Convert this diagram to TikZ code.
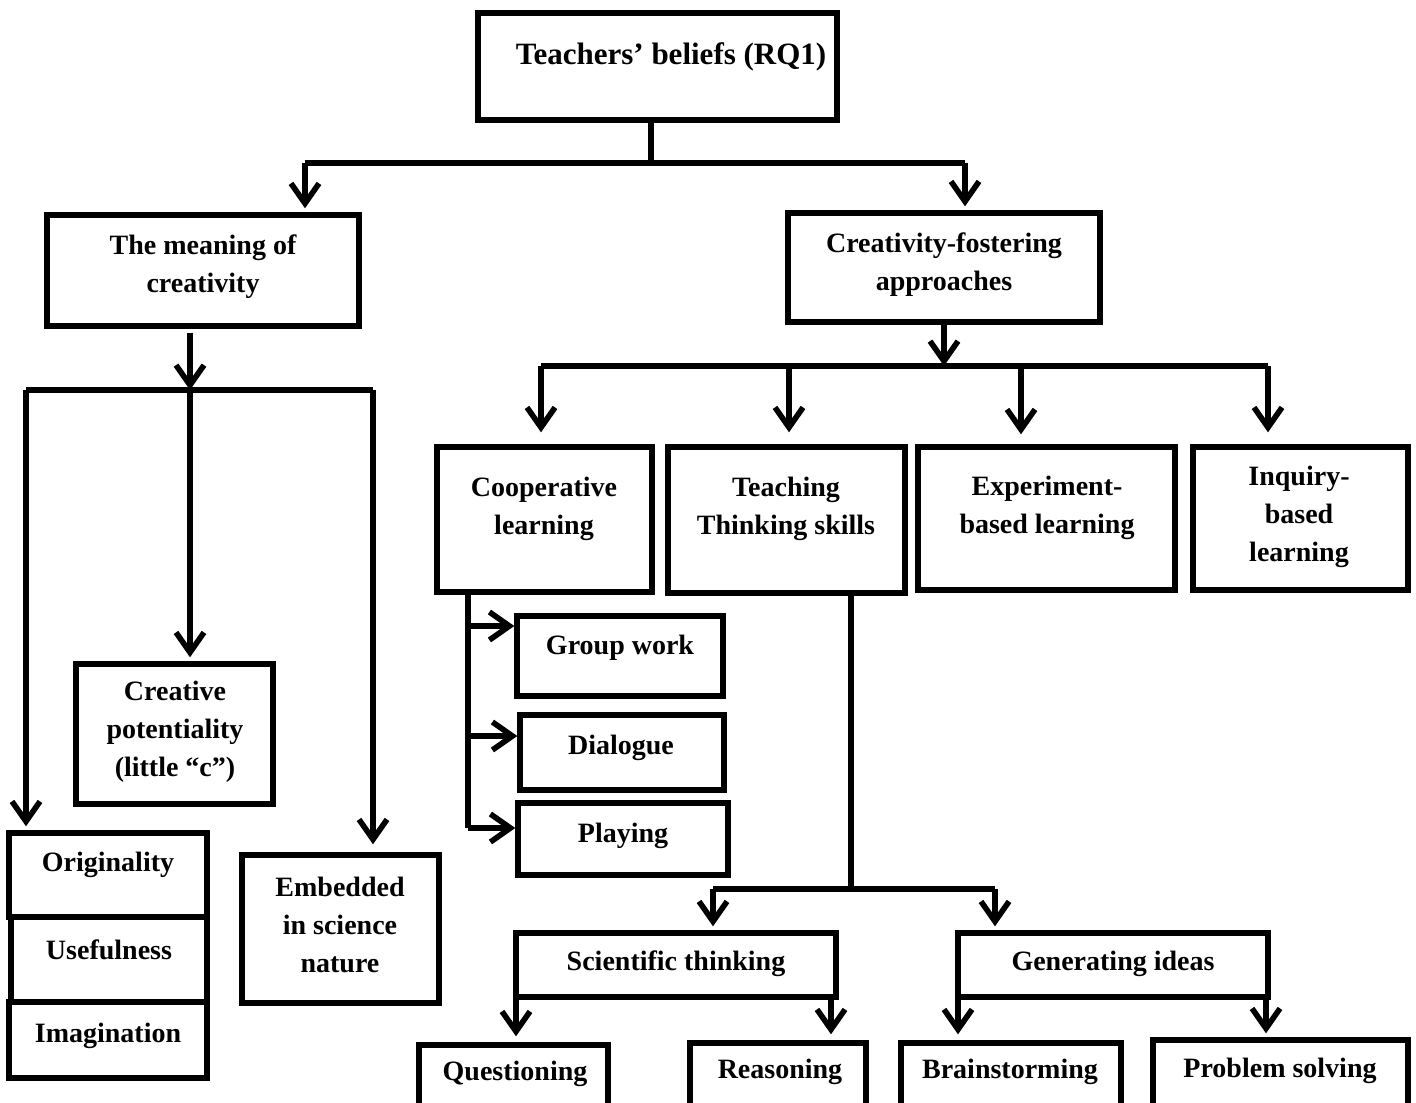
\documentclass[tikz,border=0pt]{standalone}
\usepackage{fontspec}
\setmainfont{Liberation Serif}
\usetikzlibrary{arrows.meta,fit}

\tikzset{
  box/.style={draw, line width=2.7pt, inner sep=0pt, rectangle},
  lbl/.style={font=\bfseries\fontsize{14}{19}\selectfont, align=center, inner sep=0pt, yshift=-1.5pt},
  conn/.style={line width=2.8pt},
  arr/.style={conn, -{Straight Barb[length=10pt,width=14pt]}},
}

% \mybox{name}{x1,y1}{x2,y2}{text x,y}{text}
\newcommand{\mybox}[5]{%
  \node[box, fit={(#2) (#3)}] (#1) {};
  \node[lbl] (#1-t) at (#4) {#5};
}

\begin{document}
\begin{tikzpicture}[x=0.5pt, y=-0.5pt]
\useasboundingbox (0,0) rectangle (1416,1102);
\clip (0,0) rectangle (1416,1102);

% ---------- boxes ----------
\mybox{top}{478,13}{837,120}{671,54}{\fontsize{15.5}{19}\selectfont Teachers’ beliefs (RQ1)}
\mybox{meaning}{47,215}{359,326}{203,264}{The meaning of\\creativity}
\mybox{foster}{788,213}{1100,322}{944,262}{Creativity-fostering\\approaches}

\mybox{creapot}{76,664}{273,804}{175,729}{Creative\\potentiality\\(little “c”)}
\mybox{orig}{9,833}{207,917}{108,862}{Originality}
\mybox{usef}{11,917}{207,1002}{109,947}{Usefulness}
\mybox{imag}{9,1002}{207,1078}{108,1033}{Imagination}
\mybox{embed}{242,855}{439,1003}{340,922}{Embedded\\in science\\nature}

\mybox{coop}{437,447}{652,592}{544,506}{Cooperative\\learning}
\mybox{teach}{668,447}{905,593}{786,506}{Teaching\\Thinking skills}
\mybox{exper}{918,447}{1175,590}{1047,505}{Experiment-\\based learning}
\mybox{inq}{1193,447}{1408,590}{1299,514}{Inquiry-\\based\\learning}

\mybox{group}{517,616}{723,696}{620,645}{Group work}
\mybox{dial}{520,715}{724,790}{621,745}{Dialogue}
\mybox{play}{518,803}{728,875}{623,833}{Playing}

\mybox{sci}{516,933}{836,997}{676,961}{Scientific thinking}
\mybox{gen}{958,933}{1268,997}{1113,961}{Generating ideas}

\mybox{quest}{419,1045}{608,1120}{515,1071}{Questioning}
\mybox{reas}{690,1043}{866,1120}{780,1069}{Reasoning}
\mybox{brain}{901,1043}{1121,1120}{1010,1069}{Brainstorming}
\mybox{prob}{1153,1040}{1408,1120}{1280,1068}{Problem solving}

% ---------- connectors ----------
% root to the two main themes
\coordinate (r0) at (651,163);
\coordinate (rL) at (305,163);
\coordinate (rR) at (965,163);
\draw[conn] (r0 |- top.south) -- (r0);
\draw[conn] (rL) -- (rR);
\draw[arr, shorten >=2pt] (rL) -- (rL |- meaning.north);
\draw[arr, shorten >=2pt] (rR) -- (rR |- foster.north);

% meaning of creativity
\coordinate (m0) at (190,390);
\coordinate (mL) at (26,390);
\coordinate (mR) at (373,390);
\draw[arr] (m0 |- meaning.south) ++(0,4) -- (m0);
\draw[conn] (mL) -- (mR);
\draw[arr, shorten >=2pt] (mL) -- (mL |- orig.north);
\draw[arr, shorten >=2pt] (m0) -- (m0 |- creapot.north);
\draw[arr, shorten >=4pt] (mR) -- (mR |- embed.north);

% creativity-fostering approaches
\coordinate (f0) at (944,366);
\coordinate (f1) at (541,366);
\coordinate (f2) at (789,366);
\coordinate (f3) at (1021,366);
\coordinate (f4) at (1268,366);
\draw[arr] (f0 |- foster.south) -- (f0);
\draw[conn] (f1) -- (f4);
\draw[arr, shorten >=6pt] (f1) -- (f1 |- coop.north);
\draw[arr, shorten >=6pt] (f2) -- (f2 |- teach.north);
\draw[arr, shorten >=5pt] (f3) -- (f3 |- exper.north);
\draw[arr, shorten >=6pt] (f4) -- (f4 |- inq.north);

% cooperative learning
\coordinate (c0) at (468,828);
\coordinate (c1) at (468,626);
\coordinate (c2) at (468,736);
\draw[conn] (c0 |- coop.south) -- (c0);
\draw[arr] (c1) -- (c1 -| group.west);
\draw[arr] (c2) -- (c2 -| dial.west);
\draw[arr] (c0) -- (c0 -| play.west);

% teaching thinking skills
\coordinate (t0) at (851,889);
\coordinate (tL) at (713,889);
\coordinate (tR) at (995,889);
\draw[conn] (t0 |- teach.south) -- (t0);
\draw[conn] (tL) -- (tR);
\draw[arr, shorten >=2pt] (tL) -- (tL |- sci.north);
\draw[arr, shorten >=2pt] (tR) -- (tR |- gen.north);

% scientific thinking and generating ideas
\coordinate (s1) at (516,997);
\coordinate (s2) at (831,997);
\coordinate (g1) at (958,997);
\coordinate (g2) at (1266,997);
\draw[arr, shorten >=3pt] (s1) -- (s1 |- quest.north);
\draw[arr, shorten >=3pt] (s2) -- (s2 |- reas.north);
\draw[arr, shorten >=3pt] (g1) -- (g1 |- brain.north);
\draw[arr, shorten >=2pt] (g2) -- (g2 |- prob.north);
\end{tikzpicture}
\end{document}
